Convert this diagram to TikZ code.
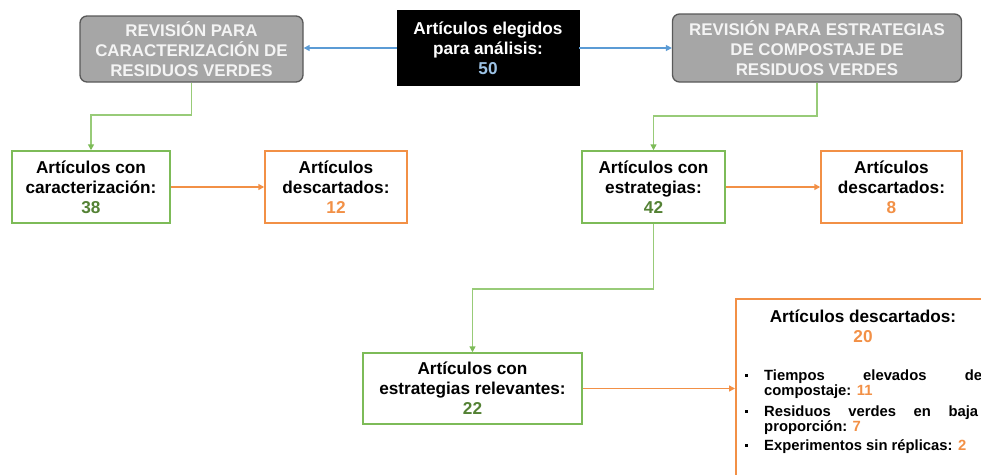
\documentclass[tikz,border=0pt]{standalone}
\usepackage{fontspec}
\setmainfont{Liberation Sans}
\usetikzlibrary{arrows.meta,calc}
\definecolor{grayfill}{HTML}{A6A6A6}
\definecolor{graydraw}{HTML}{595959}
\definecolor{graytext}{HTML}{F4F4F4}
\definecolor{blu}{HTML}{5B9BD5}
\definecolor{lblu}{HTML}{9DC3E6}
\definecolor{grn}{HTML}{7DBB58}
\definecolor{grnline}{HTML}{98CB78}
\definecolor{grntext}{HTML}{548235}
\definecolor{ora}{HTML}{F29046}
\begin{document}
\begin{tikzpicture}[x=1pt,y=-1pt,
  box/.style={draw, line width=1.5pt, inner sep=0pt, align=center, fill=white,
    font=\bfseries\fontsize{17.2}{20}\selectfont},
  gbox/.style={box, draw=grn},
  obox/.style={box, draw=ora},
  graybox/.style={draw=graydraw, fill=grayfill, line width=1.3pt, rounded corners=7pt,
    text=graytext, align=center, inner sep=0pt, font=\bfseries\fontsize{16.9}{20}\selectfont},
  blackbox/.style={draw=black, fill=black, text=white, align=center, inner sep=0pt,
    font=\bfseries\fontsize{17.2}{20}\selectfont},
  gline/.style={draw=grnline, line width=1.8pt, -{Triangle[length=6pt,width=6pt,color=grn]}},
  oline/.style={draw=ora, line width=1.6pt, -{Triangle[length=6pt,width=6pt]}},
  bline/.style={draw=blu, line width=1.4pt, -{Triangle[length=6pt,width=6pt]}},
  listline/.style={anchor=base west, inner sep=0pt, font=\bfseries\fontsize{14.8}{15}\selectfont}
]
\useasboundingbox (0,0) rectangle (981,474);
\clip (0,0) rectangle (981,474);

\node[graybox, minimum width=223pt, minimum height=66pt] (gl) at (191.5,49)
  {REVISIÓN PARA\\CARACTERIZACIÓN DE\\RESIDUOS VERDES};
\node[blackbox, minimum width=182pt, minimum height=75pt] (bk) at (488,48)
  {Artículos elegidos\\para análisis:\\\textcolor{lblu}{50}};
\node[graybox, minimum width=289pt, minimum height=68pt] (gr) at (817,48)
  {REVISIÓN PARA ESTRATEGIAS\\DE COMPOSTAJE DE\\RESIDUOS VERDES};

\node[gbox, minimum width=158pt, minimum height=72pt] (g1) at (91,187)
  {Artículos con\\caracterización:\\\textcolor{grntext}{38}};
\node[obox, minimum width=142pt, minimum height=72pt] (o1) at (336,187)
  {Artículos\\descartados:\\\textcolor{ora}{12}};
\node[gbox, minimum width=143pt, minimum height=72pt] (g2) at (653.5,187)
  {Artículos con\\estrategias:\\\textcolor{grntext}{42}};
\node[obox, minimum width=141pt, minimum height=72pt] (o2) at (891.5,187)
  {Artículos\\descartados:\\\textcolor{ora}{8}};
\node[gbox, minimum width=219pt, minimum height=71pt] (g3) at (472.5,388.5)
  {Artículos con\\estrategias relevantes:\\\textcolor{grntext}{22}};

\node[draw=ora, line width=1.5pt, minimum width=280pt, minimum height=200pt,
  anchor=north west, inner sep=0pt] (big) at (735,298) {};
\node[align=center, inner sep=0pt, font=\bfseries\fontsize{17.2}{20}\selectfont] (bt) at (863,326)
  {Artículos descartados:\\\textcolor{ora}{20}};
\node[listline] (l1) at (745,380)
  {\makebox[19pt][l]{\rule[3.5pt]{3pt}{3pt}}\makebox[218pt][s]{Tiempos elevados de}};
\node[listline] (l2) at (764,395) {compostaje: \textcolor{ora}{11}};
\node[listline] (l3) at (745,416)
  {\makebox[19pt][l]{\rule[3.5pt]{3pt}{3pt}}\makebox[214pt][s]{Residuos verdes en baja}};
\node[listline] (l4) at (764,431) {proporción: \textcolor{ora}{7}};
\node[listline] (l5) at (745,450)
  {\makebox[19pt][l]{\rule[3.5pt]{3pt}{3pt}}Experimentos sin réplicas: \textcolor{ora}{2}};

\draw[bline] (bk.west) -- (bk.west -| gl.east);
\draw[bline] (bk.east) -- (bk.east -| gr.west);
\draw[gline] (gl.south) -- ++(0,32) -| (g1.north);
\draw[gline] (gr.south) -- ++(0,33) -| (g2.north);
\draw[gline] (g2.south) -- ++(0,65) -| (g3.north);
\draw[oline] (g1.east) -- (o1.west);
\draw[oline] (g2.east) -- (o2.west);
\draw[oline] (g3.east) -- (g3.east -| big.west);
\end{tikzpicture}
\end{document}
